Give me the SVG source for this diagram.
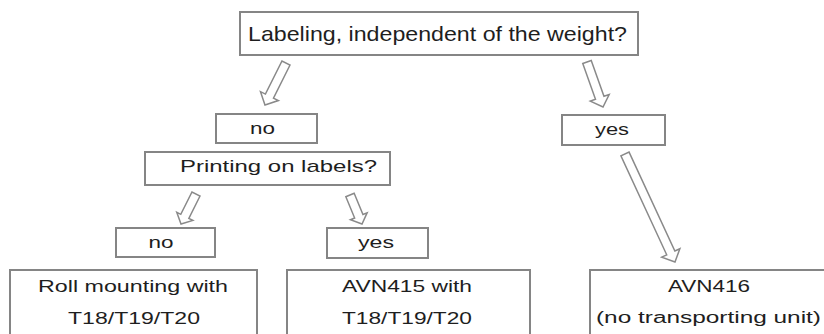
<svg xmlns="http://www.w3.org/2000/svg" width="824" height="334" viewBox="0 0 824 334">
<style>
.box{fill:#fff;stroke:#858585;stroke-width:2}
.arr{fill:#fff;stroke:#8a8a8a;stroke-width:1.5;stroke-linejoin:miter}
text{font-family:"Liberation Sans",Arial,sans-serif;fill:#1e1e1e;text-anchor:middle}
.t21{font-size:21px}
.t17{font-size:17px}
.t16{font-size:16px}
</style>
<rect width="824" height="334" fill="#fff"/>
<g id="connectors">
<polygon class="arr" transform="translate(286,63) rotate(116.57)" points="0,-4.5 37,-4.5 37,-10 47,0 37,10 37,4.5 0,4.5"/>
<polygon class="arr" transform="translate(587,62) rotate(70.43)" points="0,-4.5 38,-4.5 38,-10 47.8,0 38,10 38,4.5 0,4.5"/>
<polygon class="arr" transform="translate(625,154) rotate(65.16)" points="0,-4.5 109,-4.5 109,-10 119,0 109,10 109,4.5 0,4.5"/>
<polygon class="arr" transform="translate(196,194) rotate(116.57)" points="0,-4.5 25,-4.5 25,-9 33.5,0 25,9 25,4.5 0,4.5"/>
<polygon class="arr" transform="translate(350,195) rotate(67.52)" points="0,-4.5 23,-4.5 23,-9 31.4,0 23,9 23,4.5 0,4.5"/>
</g>
<g id="q1">
<rect class="box" x="240" y="12" width="398" height="43"/>
<text class="t21" x="437.5" y="41" textLength="379" lengthAdjust="spacingAndGlyphs">Labeling, independent of the weight?</text>
</g>
<g id="no1">
<rect class="box" x="216" y="114" width="101" height="29"/>
<text class="t17" x="262.5" y="134" textLength="25" lengthAdjust="spacingAndGlyphs">no</text>
</g>
<g id="yes1">
<rect class="box" x="562" y="115" width="103" height="30"/>
<text class="t17" x="612" y="135" textLength="34" lengthAdjust="spacingAndGlyphs">yes</text>
</g>
<g id="q2">
<rect class="box" x="145" y="152" width="245" height="33"/>
<text class="t17" x="278.5" y="172" textLength="197" lengthAdjust="spacingAndGlyphs">Printing on labels?</text>
</g>
<g id="no2">
<rect class="box" x="116" y="228" width="99" height="29"/>
<text class="t17" x="161" y="248" textLength="25" lengthAdjust="spacingAndGlyphs">no</text>
</g>
<g id="yes2">
<rect class="box" x="327" y="228" width="101" height="30"/>
<text class="t17" x="376" y="248" textLength="36" lengthAdjust="spacingAndGlyphs">yes</text>
</g>
<g id="roll">
<rect class="box" x="10" y="270" width="247" height="80"/>
<text class="t16" x="133" y="292" textLength="190" lengthAdjust="spacingAndGlyphs">Roll mounting with</text>
<text class="t16" x="134" y="324" textLength="132" lengthAdjust="spacingAndGlyphs">T18/T19/T20</text>
</g>
<g id="avn415">
<rect class="box" x="287" y="270" width="243" height="80"/>
<text class="t16" x="407" y="292" textLength="130" lengthAdjust="spacingAndGlyphs">AVN415 with</text>
<text class="t16" x="407" y="324" textLength="130" lengthAdjust="spacingAndGlyphs">T18/T19/T20</text>
</g>
<g id="avn416">
<rect class="box" x="590" y="270" width="240" height="80"/>
<text class="t16" x="709" y="292" textLength="82" lengthAdjust="spacingAndGlyphs">AVN416</text>
<text class="t16" x="708.5" y="323" textLength="225" lengthAdjust="spacingAndGlyphs">(no transporting unit)</text>
</g>
</svg>
